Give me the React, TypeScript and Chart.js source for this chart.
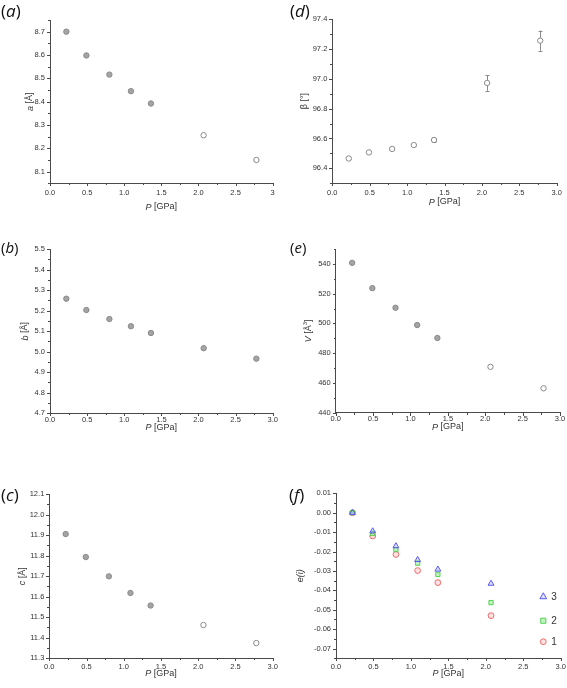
import React, { useEffect, useRef } from 'react';
import { Chart, registerables } from 'chart.js';

Chart.register(...registerables);

// ---------------- data ----------------
const pressure = [0.22, 0.49, 0.8, 1.09, 1.36, 2.07, 2.78];
const aValues = [8.7, 8.598, 8.516, 8.445, 8.392, 8.256, 8.15];
const bValues = [5.258, 5.203, 5.159, 5.124, 5.091, 5.017, 4.966];
const cValues = [11.905, 11.793, 11.699, 11.618, 11.557, 11.462, 11.374];
const betaValues = [96.466, 96.507, 96.53, 96.556, 96.59, 96.972, 97.255];
const betaErrors = [0.006, 0.006, 0.006, 0.007, 0.011, 0.053, 0.068];
const volumeValues = [540.7, 523.7, 510.5, 498.9, 490.2, 470.8, 456.4];

const filledA = [true, true, true, true, true, false, false];
const filledB = [true, true, true, true, true, true, true];
const filledC = [true, true, true, true, true, false, false];
const filledBeta = [false, false, false, false, false, false, false];
const filledV = [true, true, true, true, true, false, false];

const strainPressure = [0.22, 0.49, 0.8, 1.09, 1.36, 2.07];
const strain3 = [0, -0.0095, -0.0172, -0.0243, -0.0292, -0.0365];
const strain2 = [0, -0.0107, -0.019, -0.026, -0.0318, -0.0463];
const strain1 = [0, -0.012, -0.0215, -0.0298, -0.036, -0.053];
const strainLabels = ['3', '2', '1'];

const xTicks = [0, 0.5, 1, 1.5, 2, 2.5, 3];
const xTickLabelsA = ['0.0', '0.5', '1.0', '1.5', '2.0', '2.5', '3'];
const xTickLabels = ['0.0', '0.5', '1.0', '1.5', '2.0', '2.5', '3.0'];
const aTicks = [8.1, 8.2, 8.3, 8.4, 8.5, 8.6, 8.7];
const bTicks = [4.7, 4.8, 4.9, 5.0, 5.1, 5.2, 5.3, 5.4, 5.5];
const cTicks = [11.3, 11.4, 11.5, 11.6, 11.7, 11.8, 11.9, 12.0, 12.1];
const betaTicks = [96.4, 96.6, 96.8, 97.0, 97.2, 97.4];
const vTicks = [440, 460, 480, 500, 520, 540];
const strainTicks = [-0.07, -0.06, -0.05, -0.04, -0.03, -0.02, -0.01, 0.0, 0.01];

// ---------------- styles ----------------
const AXIS = '#4a4a4a';
const TEXT = '#333333';
const FONT = '"Liberation Sans", Arial, Helvetica, sans-serif';
const TICK_FONT = 7.5;
const TITLE_FONT = 9;
const MAJOR_LEN = 3;
const MINOR_LEN = 2;

type Seg = { t: string; i?: boolean; sup?: boolean };

type Spec = {
  id: string;
  label: string;
  labelSize: number;
  labelPos: { left: number; top: number };
  left: number;
  top: number;
  width: number;
  height: number;
  area: { l: number; t: number; r: number; b: number };
  xLabels: string[];
  xLabelOffset: number;
  yTicks: number[];
  yDec: number;
  yMin: number;
  yMax: number;
  yMinor: number;
  yTitle: Seg[];
  yTitleX: number;
  xTitleY: number;
  datasets: any[];
  errors?: number[];
  legend?: { labels: string[]; dx: number; dys: number[] };
};

const xTitle: Seg[] = [{ t: 'P', i: true }, { t: ' [GPa]' }];

function grayDataset(ys: number[], filled: boolean[]) {
  return {
    data: pressure.map((x, i) => ({ x, y: ys[i] })),
    pointRadius: 2.7,
    pointBorderWidth: 1,
    pointBorderColor: '#8a8a8a',
    pointBackgroundColor: filled.map((f) => (f ? '#a4a4a4' : '#ffffff')),
    showLine: false,
    clip: false,
  };
}

const strainStyles = [
  { style: 'triangle', stroke: '#5a5af0', fill: 'rgba(120,120,255,0.25)', r: 3.4 },
  { style: 'rect', stroke: '#55d055', fill: 'rgba(120,230,120,0.45)', r: 3 },
  { style: 'circle', stroke: '#f06a6a', fill: 'rgba(255,140,140,0.25)', r: 2.9 },
];

function strainDataset(ys: number[], k: number) {
  const s = strainStyles[k];
  return {
    data: strainPressure.map((x, i) => ({ x, y: ys[i] })),
    pointStyle: s.style,
    pointRadius: s.r,
    pointBorderWidth: 1,
    pointBorderColor: s.stroke,
    pointBackgroundColor: s.fill,
    showLine: false,
    clip: false,
  };
}

const specs: Spec[] = [
  {
    id: 'a', label: 'a', labelSize: 17, labelPos: { left: 1, top: 2 },
    left: 0, top: 0, width: 283, height: 225,
    area: { l: 50, t: 20, r: 272.7, b: 183.3 },
    xLabels: xTickLabelsA, xLabelOffset: 5.5, yTicks: aTicks, yDec: 1, yMin: 8.05, yMax: 8.75, yMinor: 0.05,
    yTitle: [{ t: 'a', i: true }, { t: ' [Å]' }], yTitleX: 30, xTitleY: 207,
    datasets: [grayDataset(aValues, filledA)],
  },
  {
    id: 'b', label: 'b', labelSize: 15, labelPos: { left: 1, top: 240 },
    left: 0, top: 225, width: 283, height: 230,
    area: { l: 50, t: 24, r: 272.7, b: 188.3 },
    xLabels: xTickLabels, xLabelOffset: 2, yTicks: bTicks, yDec: 1, yMin: 4.7, yMax: 5.5, yMinor: 0.05,
    yTitle: [{ t: 'b', i: true }, { t: ' [Å]' }], yTitleX: 25, xTitleY: 202.5,
    datasets: [grayDataset(bValues, filledB)],
  },
  {
    id: 'c', label: 'c', labelSize: 17, labelPos: { left: 1, top: 486 },
    left: 0, top: 455, width: 283, height: 233,
    area: { l: 49.3, t: 39, r: 272.7, b: 203.3 },
    xLabels: xTickLabels, xLabelOffset: 3.8, yTicks: cTicks, yDec: 1, yMin: 11.3, yMax: 12.1, yMinor: 0.05,
    yTitle: [{ t: 'c', i: true }, { t: ' [Å]' }], yTitleX: 22.7, xTitleY: 218.5,
    datasets: [grayDataset(cValues, filledC)],
  },
  {
    id: 'd', label: 'd', labelSize: 17, labelPos: { left: 290, top: 2 },
    left: 283, top: 0, width: 284, height: 225,
    area: { l: 49.3, t: 19, r: 273.7, b: 183.3 },
    xLabels: xTickLabels, xLabelOffset: 5.5, yTicks: betaTicks, yDec: 1, yMin: 96.3, yMax: 97.4, yMinor: 0.1,
    yTitle: [{ t: 'β [°]' }], yTitleX: 22, xTitleY: 202,
    datasets: [grayDataset(betaValues, filledBeta)],
    errors: betaErrors,
  },
  {
    id: 'e', label: 'e', labelSize: 15, labelPos: { left: 290, top: 240 },
    left: 283, top: 225, width: 284, height: 230,
    area: { l: 52.7, t: 24, r: 277, b: 187.7 },
    xLabels: xTickLabels, xLabelOffset: 2, yTicks: vTicks, yDec: 0, yMin: 440, yMax: 550, yMinor: 10,
    yTitle: [{ t: 'V', i: true }, { t: ' [Å' }, { t: '3', sup: true }, { t: ']' }], yTitleX: 25.3, xTitleY: 202,
    datasets: [grayDataset(volumeValues, filledV)],
  },
  {
    id: 'f', label: 'f', labelSize: 17, labelPos: { left: 289, top: 486 },
    left: 283, top: 455, width: 284, height: 233,
    area: { l: 53, t: 38.3, r: 277.7, b: 203.3 },
    xLabels: xTickLabels, xLabelOffset: 3.8, yTicks: strainTicks, yDec: 2, yMin: -0.075, yMax: 0.01, yMinor: 0.005,
    yTitle: [{ t: 'e(i)', i: true }], yTitleX: 17.7, xTitleY: 218.5,
    datasets: [strainDataset(strain3, 0), strainDataset(strain2, 1), strainDataset(strain1, 2)],
    legend: { labels: strainLabels, dx: -17.4, dys: [103.4, 127.4, 148.4] },
  },
];

// ---------------- helpers ----------------
function minorValues(min: number, max: number, step: number, majors: number[]) {
  const out: number[] = [];
  const n = Math.round((max - min) / step);
  for (let k = 0; k <= n; k++) {
    const v = min + k * step;
    if (!majors.some((m) => Math.abs(m - v) < step * 1e-3)) out.push(v);
  }
  return out;
}

function drawRich(ctx: CanvasRenderingContext2D, segs: Seg[], size: number, cx: number, cy: number, vertical: boolean) {
  ctx.save();
  ctx.translate(cx, cy);
  if (vertical) ctx.rotate(-Math.PI / 2);
  const fontFor = (s: Seg) => `${s.i ? 'italic ' : ''}${s.sup ? size * 0.65 : size}px ${FONT}`;
  let total = 0;
  segs.forEach((s) => {
    ctx.font = fontFor(s);
    total += ctx.measureText(s.t).width;
  });
  let x = -total / 2;
  ctx.textBaseline = 'middle';
  ctx.textAlign = 'left';
  ctx.fillStyle = TEXT;
  segs.forEach((s) => {
    ctx.font = fontFor(s);
    ctx.fillText(s.t, x, s.sup ? -size * 0.35 : 0);
    x += ctx.measureText(s.t).width;
  });
  ctx.restore();
}

function drawMarker(ctx: CanvasRenderingContext2D, style: string, x: number, y: number, r: number, stroke: string, fill: string) {
  ctx.save();
  ctx.beginPath();
  if (style === 'triangle') {
    ctx.moveTo(x, y - r * 1.15);
    ctx.lineTo(x + r, y + r * 0.6);
    ctx.lineTo(x - r, y + r * 0.6);
    ctx.closePath();
  } else if (style === 'rect') {
    ctx.rect(x - r * 0.85, y - r * 0.85, r * 1.7, r * 1.7);
  } else {
    ctx.arc(x, y, r, 0, Math.PI * 2);
  }
  ctx.fillStyle = fill;
  ctx.fill();
  ctx.strokeStyle = stroke;
  ctx.lineWidth = 1;
  ctx.stroke();
  ctx.restore();
}

function decorPlugin(spec: Spec) {
  return {
    id: 'decor' + spec.id,
    beforeDatasetsDraw(chart: any) {
      if (!spec.errors) return;
      const { ctx, scales } = chart;
      ctx.save();
      ctx.strokeStyle = '#8a8a8a';
      ctx.lineWidth = 1;
      const ds = spec.datasets[0].data;
      ds.forEach((p: any, i: number) => {
        const e = spec.errors![i];
        const x = Math.round(scales.x.getPixelForValue(p.x)) + 0.5;
        const y1 = scales.y.getPixelForValue(p.y + e);
        const y2 = scales.y.getPixelForValue(p.y - e);
        ctx.beginPath();
        ctx.moveTo(x, y1);
        ctx.lineTo(x, y2);
        ctx.moveTo(x - 2, Math.round(y1) + 0.5);
        ctx.lineTo(x + 2, Math.round(y1) + 0.5);
        ctx.moveTo(x - 2, Math.round(y2) + 0.5);
        ctx.lineTo(x + 2, Math.round(y2) + 0.5);
        ctx.stroke();
      });
      ctx.restore();
    },
    afterDraw(chart: any) {
      const { ctx, scales, chartArea } = chart;
      const xs = scales.x;
      const ys = scales.y;
      ctx.save();
      ctx.strokeStyle = AXIS;
      ctx.lineWidth = 1;
      ctx.beginPath();
      const bottom = Math.round(chartArea.bottom);
      const left = Math.round(chartArea.left);
      const xMinors = minorValues(0, 3, 0.25, xTicks);
      xTicks.forEach((v) => {
        const px = Math.round(xs.getPixelForValue(v)) + 0.5;
        ctx.moveTo(px, bottom);
        ctx.lineTo(px, bottom + MAJOR_LEN);
      });
      xMinors.forEach((v) => {
        const px = Math.round(xs.getPixelForValue(v)) + 0.5;
        ctx.moveTo(px, bottom);
        ctx.lineTo(px, bottom + MINOR_LEN);
      });
      const yMinors = minorValues(spec.yMin, spec.yMax, spec.yMinor, spec.yTicks);
      spec.yTicks.forEach((v) => {
        const py = Math.round(ys.getPixelForValue(v)) + 0.5;
        ctx.moveTo(left, py);
        ctx.lineTo(left - MAJOR_LEN, py);
      });
      yMinors.forEach((v) => {
        const py = Math.round(ys.getPixelForValue(v)) + 0.5;
        ctx.moveTo(left, py);
        ctx.lineTo(left - MINOR_LEN, py);
      });
      ctx.stroke();
      ctx.restore();

      drawRich(ctx, xTitle, TITLE_FONT, (chartArea.left + chartArea.right) / 2, spec.xTitleY, false);
      drawRich(ctx, spec.yTitle, TITLE_FONT, spec.yTitleX, (chartArea.top + chartArea.bottom) / 2, true);

      if (spec.legend) {
        const lg = spec.legend;
        lg.labels.forEach((lab, k) => {
          const st = strainStyles[k];
          const x = chartArea.right + lg.dx;
          const y = chartArea.top + lg.dys[k];
          drawMarker(ctx, st.style, x, y, st.r, st.stroke, st.fill);
          ctx.save();
          ctx.fillStyle = TEXT;
          ctx.font = `10px ${FONT}`;
          ctx.textAlign = 'left';
          ctx.textBaseline = 'middle';
          ctx.fillText(lab, x + 8, y + 0.5);
          ctx.restore();
        });
      }
    },
  };
}

function makeConfig(spec: Spec): any {
  return {
    type: 'scatter',
    data: { datasets: spec.datasets },
    options: {
      animation: false,
      responsive: false,
      maintainAspectRatio: false,
      devicePixelRatio: 1,
      events: [],
      layout: { padding: { left: 0, top: spec.area.t, right: spec.width - spec.area.r, bottom: 0 } },
      plugins: { legend: { display: false }, tooltip: { enabled: false }, title: { display: false } },
      scales: {
        x: {
          type: 'linear',
          position: 'bottom',
          min: 0,
          max: 3,
          afterBuildTicks: (s: any) => {
            s.ticks = xTicks.map((v) => ({ value: v }));
          },
          afterFit: (s: any) => {
            s.height = spec.height - spec.area.b;
            s.paddingLeft = 0;
            s.paddingRight = 0;
          },
          ticks: {
            autoSkip: false,
            maxRotation: 0,
            minRotation: 0,
            padding: spec.xLabelOffset,
            color: TEXT,
            font: { family: FONT, size: TICK_FONT },
            callback: (_v: any, i: number) => spec.xLabels[i],
          },
          grid: { display: false, drawTicks: true, tickLength: 0 },
          border: { display: true, color: AXIS, width: 1 },
        },
        y: {
          type: 'linear',
          position: 'left',
          min: spec.yMin,
          max: spec.yMax,
          afterBuildTicks: (s: any) => {
            s.ticks = spec.yTicks.map((v) => ({ value: v }));
          },
          afterFit: (s: any) => {
            s.width = spec.area.l;
            s.paddingTop = 0;
            s.paddingBottom = 0;
          },
          ticks: {
            autoSkip: false,
            padding: 2,
            color: TEXT,
            font: { family: FONT, size: TICK_FONT },
            callback: (v: any) => Number(v).toFixed(spec.yDec),
          },
          grid: { display: false, drawTicks: true, tickLength: 3 },
          border: { display: true, color: AXIS, width: 1 },
        },
      },
    },
    plugins: [decorPlugin(spec)],
  };
}

function Panel({ spec }: { spec: Spec }) {
  const ref = useRef<HTMLCanvasElement | null>(null);
  useEffect(() => {
    if (!ref.current) return;
    const chart = new Chart(ref.current, makeConfig(spec));
    return () => chart.destroy();
  }, [spec]);
  return (
    <canvas
      ref={ref}
      width={spec.width}
      height={spec.height}
      style={{ position: 'absolute', left: spec.left, top: spec.top, width: spec.width, height: spec.height }}
    />
  );
}

export default function App() {
  return (
    <div style={{ position: 'absolute', left: 0, top: 0, width: 567, height: 688, background: '#ffffff', overflow: 'hidden' }}>
      {specs.map((s) => (
        <Panel key={s.id} spec={s} />
      ))}
      {specs.map((s) => (
        <div
          key={'lab' + s.id}
          style={{
            position: 'absolute',
            left: s.labelPos.left,
            top: s.labelPos.top,
            fontFamily: '"Open Sans", "Noto Sans", sans-serif',
            fontSize: s.labelSize,
            lineHeight: 1,
            color: '#111',
            whiteSpace: 'nowrap',
          }}
        >
          (<i>{s.label}</i>)
        </div>
      ))}
    </div>
  );
}
